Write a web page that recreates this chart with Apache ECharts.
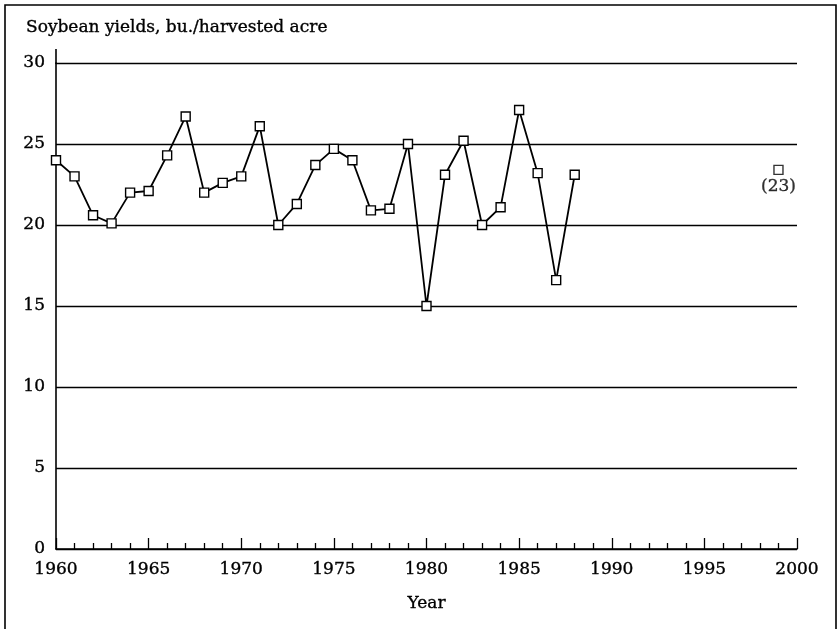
<!DOCTYPE html>
<html>
<head>
<meta charset="utf-8">
<script src="https://cdn.jsdelivr.net/npm/echarts@6/dist/echarts.min.js"></script>
<style>
  html, body { margin: 0; padding: 0; background: #fff; }
  #chart { width: 840px; height: 629px; }
</style>
</head>
<body>
<div id="chart"></div>
<script>
const years = [1960, 1961, 1962, 1963, 1964, 1965, 1966, 1967, 1968, 1969,
    1970, 1971, 1972, 1973, 1974, 1975, 1976, 1977, 1978, 1979,
    1980, 1981, 1982, 1983, 1984, 1985, 1986, 1987, 1988];
const yields = [24.0, 23.0, 20.6, 20.1, 22.0, 22.1, 24.3, 26.7, 22.0, 22.6,
    23.0, 26.1, 20.0, 21.3, 23.7, 24.7, 24.0, 20.9, 21.0, 25.0,
    15.0, 23.1, 25.2, 20.0, 21.1, 27.1, 23.2, 16.6, 23.1];
const projectionYear = 1999;
const projectionValue = 23.4;
const projectionLabel = "(23)";

const font = "DejaVu Serif";
// scanned print looks a touch heavier than the screen font
const ink = {color: "#000", textBorderColor: "#000", textBorderWidth: 0.35};

const chart = echarts.init(document.getElementById("chart"));

chart.setOption({
    animation: false,
    backgroundColor: "#fff",
    title: {
        text: "Soybean yields, bu./harvested acre",
        left: 21,
        top: 14,
        textStyle: Object.assign({fontFamily: font, fontSize: 17, fontWeight: "normal"}, ink)
    },
    grid: {left: 56, right: 43, top: 63, bottom: 80},
    xAxis: {
        type: "value",
        min: 1960,
        max: 2000,
        interval: 5,
        name: "Year",
        nameLocation: "middle",
        nameGap: 46,
        nameTextStyle: Object.assign({fontFamily: font, fontSize: 17}, ink),
        axisLine: {lineStyle: {color: "#000", width: 1.6}},
        axisTick: {inside: true, length: 11, lineStyle: {color: "#000", width: 1.3}},
        minorTick: {show: true, splitNumber: 5, length: 6, lineStyle: {color: "#000", width: 1.3}},
        splitLine: {show: false},
        axisLabel: Object.assign({
            fontFamily: font, fontSize: 17, margin: 12,
            formatter: v => String(v)
        }, ink)
    },
    yAxis: {
        type: "value",
        min: 0,
        max: 30,
        interval: 5,
        axisLine: {show: true, lineStyle: {color: "#000", width: 1.6}},
        axisTick: {show: false},
        splitLine: {show: true, lineStyle: {color: "#000", width: 1.4}},
        axisLabel: Object.assign({fontFamily: font, fontSize: 17, margin: 11}, ink)
    },
    graphic: [
        // outer frame of the figure
        {type: "rect", shape: {x: 5, y: 5, width: 831, height: 700},
            style: {fill: "none", stroke: "#000", lineWidth: 1.6}, silent: true},
        // y axis runs a little above the top gridline
        {type: "line", shape: {x1: 56, y1: 49, x2: 56, y2: 64},
            style: {stroke: "#000", lineWidth: 1.6}, silent: true}
    ],
    series: [
        {
            type: "line",
            data: years.map((y, i) => [y, yields[i]]),
            symbol: "rect",
            symbolSize: 9,
            showAllSymbol: true,
            lineStyle: {color: "#000", width: 1.8},
            itemStyle: {color: "#fff", borderColor: "#000", borderWidth: 1.4}
        },
        {
            type: "scatter",
            data: [[projectionYear, projectionValue]],
            symbol: "rect",
            symbolSize: 9,
            itemStyle: {color: "#fff", borderColor: "#000", borderWidth: 1.4},
            label: Object.assign({
                show: true,
                position: "bottom",
                distance: 3,
                formatter: projectionLabel,
                fontFamily: font, fontSize: 17
            }, ink)
        }
    ]
});
</script>
</body>
</html>
